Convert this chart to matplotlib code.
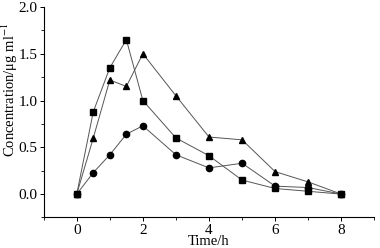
import matplotlib
matplotlib.use("Agg")
import matplotlib.pyplot as plt
from matplotlib.ticker import MultipleLocator, FormatStrFormatter

plt.rcParams['font.family'] = ['Liberation Serif', 'DejaVu Serif']
plt.rcParams['mathtext.fontset'] = 'stix'

time_h = [0, 0.5, 1, 1.5, 2, 3, 4, 5, 6, 7, 8]
conc_square = [0, 0.88, 1.35, 1.65, 1.0, 0.60, 0.41, 0.15, 0.06, 0.03, 0.0]
conc_triangle = [0, 0.60, 1.22, 1.15, 1.50, 1.05, 0.61, 0.58, 0.24, 0.13, 0.0]
conc_circle = [0, 0.23, 0.42, 0.64, 0.73, 0.42, 0.28, 0.33, 0.085, 0.07, 0.0]

fig = plt.figure(figsize=(3.8, 2.48), dpi=100)
ax = fig.add_axes([0.115, 0.123, 0.87, 0.849])

line_kw = dict(color='#555555', linewidth=0.7, markersize=4.5,
               markerfacecolor='black', markeredgecolor='black')
ax.plot(time_h, conc_circle, marker='o', **line_kw)
ax.plot(time_h, conc_triangle, marker='^', **line_kw)
ax.plot(time_h, conc_square, marker='s', **line_kw)

ax.set_xlim(-1, 9)
ax.set_ylim(-0.25, 2.0)
ax.xaxis.set_major_locator(MultipleLocator(2))
ax.xaxis.set_minor_locator(MultipleLocator(1))
ax.yaxis.set_major_locator(MultipleLocator(0.5))
ax.yaxis.set_minor_locator(MultipleLocator(0.25))
ax.yaxis.set_major_formatter(FormatStrFormatter('%.1f'))

for s in ['top', 'right']:
    ax.spines[s].set_visible(False)
for s in ['left', 'bottom']:
    ax.spines[s].set_linewidth(0.8)

ax.tick_params(which='major', direction='out', length=3, width=0.7, labelsize=11, pad=1.5)
ax.tick_params(which='minor', direction='out', length=2, width=0.6)

ax.set_xlabel('Time/h', fontsize=10.5)
ax.xaxis.set_label_coords(0.5, -0.085)
ax.set_ylabel(r'Concentration/μg ml$^{-1}$', fontsize=10.5)
ax.yaxis.set_label_coords(-0.072, 0.605)

fig.savefig('out.png', dpi=100)
